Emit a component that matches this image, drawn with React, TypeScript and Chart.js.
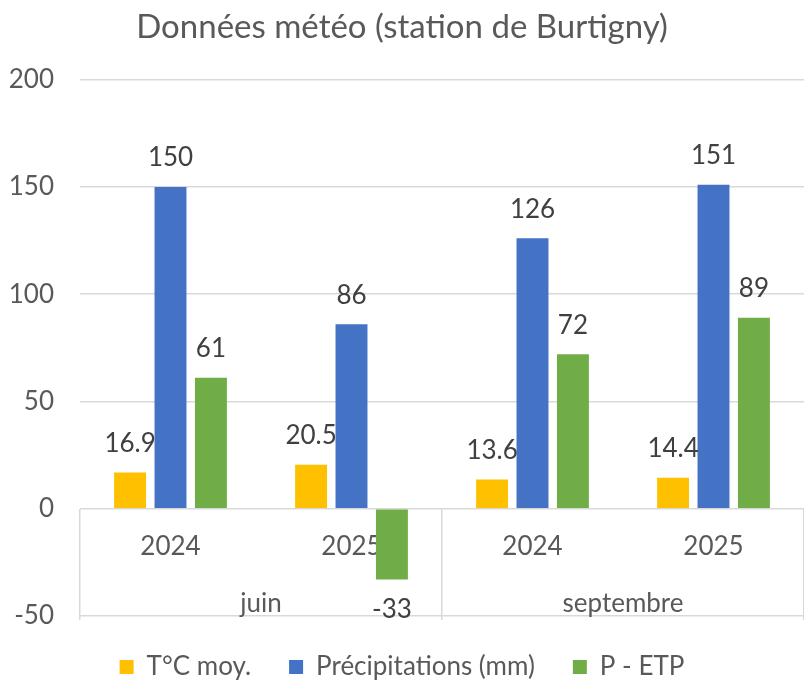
import React, { useEffect, useRef } from "react";
import { Chart, registerables } from "chart.js";

Chart.register(...registerables);

const yearLabels = ["2024", "2025", "2024", "2025"];
const monthLabels = ["juin", "septembre"];
const tempValues = [16.9, 20.5, 13.6, 14.4];
const precipValues = [150, 86, 126, 151];
const pEtpValues = [61, -33, 72, 89];
const seriesNames = ["T°C moy.", "Précipitations (mm)", "P - ETP"];
const seriesColors = ["#FFC000", "#4472C4", "#70AD47"];
const yTicks = { min: -50, max: 200, step: 50 };

const FONT = "Lato, 'Open Sans', sans-serif";

const dataLabelPlugin = {
  id: "dataLabels",
  afterDatasetsDraw(chart: any) {
    const ctx = chart.ctx;
    ctx.save();
    ctx.font = `26px ${FONT}`;
    ctx.fillStyle = "#404040";
    ctx.textAlign = "center";
    ctx.textBaseline = "middle";
    chart.data.datasets.forEach((ds: any, di: number) => {
      const meta = chart.getDatasetMeta(di);
      meta.data.forEach((bar: any, i: number) => {
        const v = ds.data[i];
        const y = v >= 0 ? bar.y - 29 : bar.y + 30;
        ctx.fillText(String(v), bar.x, y);
      });
    });
    ctx.restore();
  },
};

export default function App() {
  const ref = useRef<HTMLCanvasElement | null>(null);
  useEffect(() => {
    if (!ref.current) return;
    const chart = new Chart(ref.current, {
      type: "bar",
      data: {
        labels: yearLabels,
        datasets: [
          { label: seriesNames[0], data: tempValues, backgroundColor: seriesColors[0] },
          { label: seriesNames[1], data: precipValues, backgroundColor: seriesColors[1] },
          { label: seriesNames[2], data: pEtpValues, backgroundColor: seriesColors[2] },
        ],
      },
      options: {
        animation: false,
        responsive: false,
        layout: { padding: { left: 0, right: 0, top: 0, bottom: -4 } },
        datasets: { bar: { categoryPercentage: 0.67, barPercentage: 0.79 } },
        plugins: {
          title: {
            display: true,
            text: "Données météo (station de Burtigny)",
            color: "#595959",
            font: { family: FONT, size: 33, weight: "normal" },
            padding: { top: 8, bottom: 32 },
          },
          legend: {
            position: "bottom",
            labels: {
              boxWidth: 14,
              boxHeight: 14,
              padding: 38,
              color: "#595959",
              font: { family: FONT, size: 26 },
            },
          },
          tooltip: { enabled: false },
        },
        scales: {
          y: {
            min: yTicks.min,
            max: yTicks.max,
            ticks: {
              stepSize: yTicks.step,
              color: "#595959",
              font: { family: FONT, size: 26 },
              padding: 26,
            },
            grid: { color: "#d9d9d9", drawTicks: false, lineWidth: 1.5 },
            border: { display: false },
            afterFit(scale: any) {
              scale.width = 80;
            },
          },
          x: {
            position: { y: 0 } as any,
            grid: { display: false, drawTicks: false },
            border: { display: false },
            ticks: {
              color: "#595959",
              font: { family: FONT, size: 26 },
              padding: 22,
              autoSkip: false,
              maxRotation: 0,
            },
          },
          x2: {
            type: "category",
            labels: monthLabels,
            position: { y: 0 } as any,
            offset: true,
            grid: {
              offset: true,
              drawOnChartArea: false,
              drawTicks: true,
              tickLength: 111,
              color: "#d9d9d9",
              lineWidth: 1.5,
            },
            border: { display: false },
            ticks: {
              color: "#595959",
              font: { family: FONT, size: 26 },
              padding: -32,
              autoSkip: false,
              maxRotation: 0,
            },
          },
        },
      } as any,
      plugins: [dataLabelPlugin],
    });
    return () => chart.destroy();
  }, []);
  return (
    <div style={{ position: "fixed", left: 0, top: 0, width: 804, height: 686, background: "#fff" }}>
      <canvas ref={ref} width={804} height={686} />
    </div>
  );
}
